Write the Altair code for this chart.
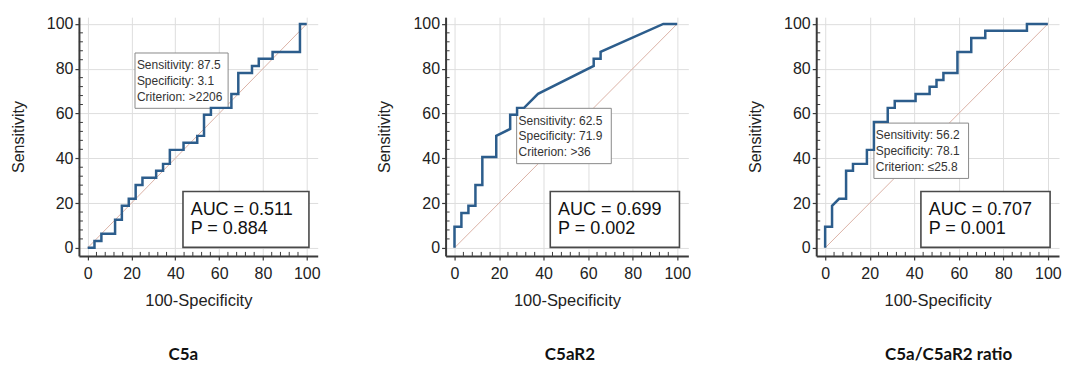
import altair as alt
import pandas as pd

# ---------------- data ----------------
# ROC curves: x = 100-Specificity, y = Sensitivity
c5a_fpr = [0, 3.1, 3.1, 6.25, 6.25, 12.5, 12.5, 15.6, 15.6, 18.75, 18.75, 21.9, 21.9, 25, 25,
           31.25, 31.25, 34.4, 34.4, 37.5, 37.5, 43.75, 43.75, 50, 50, 53.1, 53.1, 56.25, 56.25,
           65.6, 65.6, 68.75, 68.75, 75, 75, 78.1, 78.1, 84.4, 84.4, 96.9, 96.9, 100]
c5a_tpr = [0, 0, 3.1, 3.1, 6.25, 6.25, 12.5, 12.5, 18.75, 18.75, 21.9, 21.9, 28.1, 28.1, 31.25,
           31.25, 34.4, 34.4, 37.5, 37.5, 43.75, 43.75, 46.9, 46.9, 50, 50, 59.4, 59.4, 62.5,
           62.5, 68.75, 68.75, 78.1, 78.1, 81.25, 81.25, 84.4, 84.4, 87.5, 87.5, 100, 100]

c5ar2_fpr = [0, 0, 3.1, 3.1, 6.25, 6.25, 9.4, 9.4, 12.5, 12.5, 18.75, 18.75, 25, 25, 28.1, 28.1,
             31.25, 37.5, 62.5, 62.5, 65.6, 65.6, 93.75, 100]
c5ar2_tpr = [0, 9.4, 9.4, 15.6, 15.6, 18.75, 18.75, 28.1, 28.1, 40.6, 40.6, 50, 53.1, 59.4, 59.4,
             62.5, 62.5, 68.75, 81.25, 84.4, 84.4, 87.5, 100, 100]

ratio_fpr = [0, 0, 3.1, 3.1, 6.25, 9.4, 9.4, 12.5, 12.5, 18.75, 18.75, 21.9, 21.9, 28.1, 28.1,
             31.25, 31.25, 40.6, 40.6, 46.9, 46.9, 50, 50, 53.1, 53.1, 59.4, 59.4, 65.6, 65.6,
             71.9, 71.9, 90.6, 90.6, 100]
ratio_tpr = [0, 9.4, 9.4, 18.75, 21.9, 21.9, 34.4, 34.4, 37.5, 37.5, 43.75, 43.75, 56.25, 56.25,
             62.5, 62.5, 65.6, 65.6, 68.75, 68.75, 71.9, 71.9, 75, 75, 78.1, 78.1, 87.5, 87.5,
             93.75, 93.75, 96.9, 96.9, 100, 100]

panel_titles = ["C5a", "C5aR2", "C5a/C5aR2 ratio"]
auc_values = ["0.511", "0.699", "0.707"]
p_values = ["0.884", "0.002", "0.001"]
sens_values = ["87.5", "62.5", "56.2"]
spec_values = ["3.1", "71.9", "78.1"]
crit_values = [">2206", ">36", "\u226425.8"]

# annotation boxes, in data units (left edge, top edge)
info_left = [21.6, 27.9, 21.9]
info_top = [87.0, 62.3, 55.7]
auc_left = [43.5, 43.0, 43.0]

major_ticks = [0, 20, 40, 60, 80, 100]
minor_ticks = [v for v in range(0, 101, 4) if v % 20 != 0]

# ---------------- styling ----------------
FONT = "Liberation Sans"
LINE = "#2c5d8c"
DIAG = "#dbb2a6"
AXC = "#3a3a3a"
widths = [239, 243, 243]
H = 239
title_dx = [-15, 3, 11]

xs = alt.Scale(domain=[-4, 105], nice=False, zero=False)
ys = alt.Scale(domain=[-3.6, 103], nice=False, zero=False)

xax = alt.Axis(values=major_ticks, title="100-Specificity", grid=True, gridColor="#dedede",
               domainColor=AXC, domainWidth=2, tickColor=AXC, tickSize=4, tickWidth=1.2,
               labelFont=FONT, labelFontSize=16, labelColor="#222", labelPadding=6,
               labelFlush=False, titleFont=FONT, titleFontSize=16.5, titleFontWeight="normal",
               titleColor="#222", titlePadding=11)
yax = alt.Axis(values=major_ticks, title="Sensitivity", grid=True, gridColor="#dedede",
               domainColor=AXC, domainWidth=2, tickColor=AXC, tickSize=4, tickWidth=1.2,
               labelFont=FONT, labelFontSize=16, labelColor="#222", labelPadding=2,
               labelFlush=False, titleFont=FONT, titleFontSize=16, titleFontWeight="normal",
               titleColor="#222", titlePadding=20)


def X(f):
    return alt.X(f, type="quantitative", scale=xs, axis=xax)


def Y(f):
    return alt.Y(f, type="quantitative", scale=ys, axis=yax)


def panel(i, fpr, tpr):
    w = widths[i]
    roc = pd.DataFrame({"x": fpr, "y": tpr, "o": list(range(len(fpr)))})
    diag_df = pd.DataFrame({"x": [0, 100], "y": [0, 100]})

    diag = alt.Chart(diag_df).mark_line(color=DIAG, strokeWidth=1).encode(x=X("x"), y=Y("y"))
    line = alt.Chart(roc).mark_line(color=LINE, strokeWidth=2.5).encode(
        x=X("x"), y=Y("y"), order="o:Q")

    boxes = pd.DataFrame({
        "x": [info_left[i], auc_left[i]],
        "x2": [info_left[i] + 42.5, 101.0],
        "y": [info_top[i], 25.2],
        "y2": [info_top[i] - 24.7, 0.2],
        "kind": ["info", "auc"],
    })
    info_box = alt.Chart(boxes[boxes.kind == "info"]).mark_rect(
        fill="white", stroke="#8a8a8a", strokeWidth=1).encode(
        x=X("x"), x2="x2", y=Y("y"), y2="y2")
    auc_box = alt.Chart(boxes[boxes.kind == "auc"]).mark_rect(
        fill="white", stroke="#4a4a4a", strokeWidth=1.6).encode(
        x=X("x"), x2="x2", y=Y("y"), y2="y2")

    info_txt = pd.DataFrame({
        "x": [info_left[i] + 0.4] * 3,
        "y": [info_top[i] - 5.5, info_top[i] - 12.5, info_top[i] - 19.5],
        "t": ["Sensitivity: " + sens_values[i], "Specificity: " + spec_values[i],
              "Criterion: " + crit_values[i]],
    })
    info_text = alt.Chart(info_txt).mark_text(
        align="left", baseline="middle", font=FONT, fontSize=12, color="#333", dx=1).encode(
        x=X("x"), y=Y("y"), text="t:N")

    auc_txt = pd.DataFrame({
        "x": [auc_left[i] + 3.5] * 2,
        "y": [17.0, 8.2],
        "t": ["AUC = " + auc_values[i], "P = " + p_values[i]],
    })
    auc_text = alt.Chart(auc_txt).mark_text(
        align="left", baseline="middle", font=FONT, fontSize=18, color="#111").encode(
        x=X("x"), y=Y("y"), text="t:N")

    mt = pd.DataFrame({"v": minor_ticks})
    ymin = alt.Chart(mt).mark_rule(color=AXC, strokeWidth=1).encode(
        y=Y("v"), x=alt.value(0), x2=alt.value(4))
    xmin = alt.Chart(mt).mark_rule(color=AXC, strokeWidth=1).encode(
        x=X("v"), y=alt.value(H), y2=alt.value(H - 4))

    return alt.layer(diag, info_box, auc_box, line, info_text, auc_text, ymin, xmin).properties(
        width=w, height=H,
        title=alt.TitleParams(panel_titles[i], orient="bottom", anchor="middle", offset=38,
                              dx=title_dx[i], font="Lato", fontWeight="bold", fontSize=17,
                              color="#111"),
    )


chart = alt.hconcat(
    panel(0, c5a_fpr, c5a_tpr),
    panel(1, c5ar2_fpr, c5ar2_tpr),
    panel(2, ratio_fpr, ratio_tpr),
    spacing=56,
).properties(
    padding={"left": 2, "top": 7, "right": 0, "bottom": 0},
    background="white",
).configure_view(strokeWidth=0)

chart.save("out.html", embed_options={"renderer": "svg", "actions": False})
